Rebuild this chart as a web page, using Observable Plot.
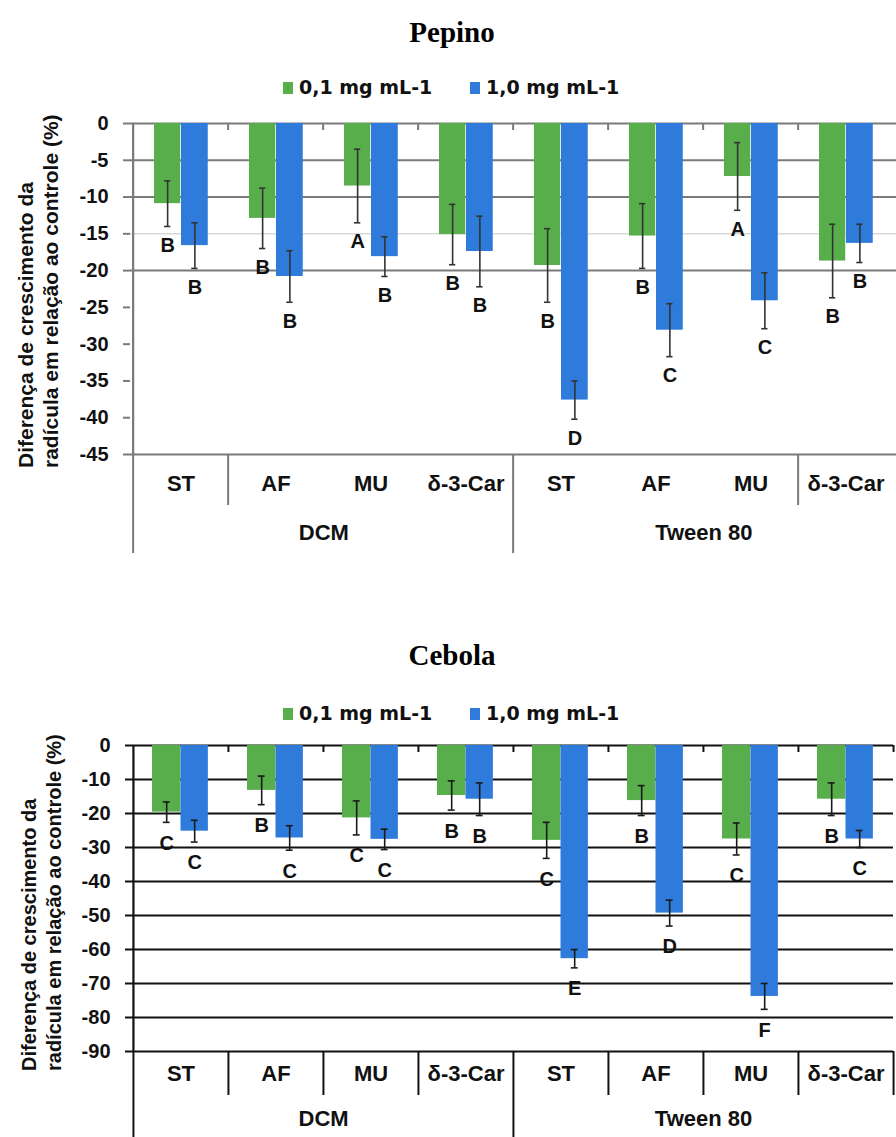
<!DOCTYPE html>
<html><head><meta charset="utf-8">
<script src="https://cdn.jsdelivr.net/npm/d3@7"></script>
<script src="https://cdn.jsdelivr.net/npm/@observablehq/plot@0.6"></script>
<style>
body{margin:0;background:#fff;}
#page{position:relative;width:896px;height:1137px;overflow:hidden;background:#fff;}
#page svg{position:absolute;left:0;}
</style></head><body><div id="page"></div>
<script>
// ---------- data ----------
const solvents = ["DCM", "Tween 80"];
const compounds = ["ST", "AF", "MU", "δ-3-Car"];
const seriesNames = ["0,1 mg mL-1", "1,0 mg mL-1"];
const chartTitles = ["Pepino", "Cebola"];
const yTitleLines = ["Diferença de crescimento da", "radícula em relação ao controle (%)"];

const pepinoLow = [-10.9, -12.9, -8.5, -15.1, -19.3, -15.3, -7.2, -18.7];
const pepinoLowErr = [3.1, 4.1, 5.0, 4.1, 5.0, 4.4, 4.6, 5.0];
const pepinoLowLetters = ["B", "B", "A", "B", "B", "B", "A", "B"];
const pepinoHigh = [-16.6, -20.8, -18.1, -17.4, -37.6, -28.1, -24.1, -16.3];
const pepinoHighErr = [3.1, 3.5, 2.7, 4.8, 2.6, 3.6, 3.8, 2.6];
const pepinoHighLetters = ["B", "B", "B", "B", "D", "C", "C", "B"];
const pepinoTicks = [0, -5, -10, -15, -20, -25, -30, -35, -40, -45];
const pepinoGrid = [0, -5, -10, -20, -45];

const cebolaLow = [-19.6, -13.2, -21.3, -14.7, -27.9, -16.2, -27.5, -15.8];
const cebolaLowErr = [3.0, 4.2, 5.0, 4.3, 5.3, 4.4, 4.7, 4.8];
const cebolaLowLetters = ["C", "B", "C", "B", "C", "B", "C", "B"];
const cebolaHigh = [-25.2, -27.2, -27.6, -15.8, -62.7, -49.3, -73.8, -27.5];
const cebolaHighErr = [3.2, 3.6, 3.0, 4.8, 2.7, 3.8, 3.8, 2.5];
const cebolaHighLetters = ["C", "C", "C", "B", "E", "D", "F", "C"];
const cebolaTicks = [0, -10, -20, -30, -40, -50, -60, -70, -80, -90];
const cebolaGrid = [0, -10, -20, -30, -40, -50, -60, -70, -80, -90];

const GREEN = "#58ae4b", BLUE = "#2f7bdc";
const keys = solvents.flatMap(s => compounds.map(c => s + "|" + c));

function chart(cfg) {
  const rows = keys.map((k, i) => ({
    key: k, solvent: k.split("|")[0], compound: k.split("|")[1],
    low: cfg.low[i], lowErr: cfg.lowErr[i], lowLetter: cfg.lowLetters[i],
    high: cfg.high[i], highErr: cfg.highErr[i], highLetter: cfg.highLetters[i]
  }));
  const w = (cfg.width - cfg.ml - cfg.mr) / keys.length;
  const frameH = cfg.height - cfg.mt - cfg.mb;
  const cG = (cfg.gL + cfg.gR) / 2, cB = (cfg.gR + cfg.bR) / 2;
  const dxG = cG - w / 2, dxB = cB - w / 2;
  const cap = 3.5;
  const errMarks = (field, errField, c, dx) => [
    Plot.ruleX(rows, {x: "key", y1: d => d[field] - d[errField], y2: d => d[field] + d[errField], dx, stroke: cfg.errColor, strokeWidth: 1.6}),
    Plot.tickY(rows, {x: "key", y: d => d[field] - d[errField], insetLeft: c - cap, insetRight: w - c - cap, stroke: cfg.errColor, strokeWidth: 1.6}),
    Plot.tickY(rows, {x: "key", y: d => d[field] + d[errField], insetLeft: c - cap, insetRight: w - c - cap, stroke: cfg.errColor, strokeWidth: 1.6})
  ];
  const svg = Plot.plot({
    width: cfg.width, height: cfg.height,
    marginTop: cfg.mt, marginBottom: cfg.mb, marginLeft: cfg.ml, marginRight: cfg.mr,
    x: {type: "band", domain: keys, padding: 0, axis: null},
    y: {domain: [cfg.ticks[cfg.ticks.length - 1], 0], axis: null},
    style: {background: "transparent", fontFamily: "'Liberation Sans', Arial, sans-serif", fontWeight: "bold", fontSize: "20px", color: "black", overflow: "visible"},
    marks: [
      ...(cfg.faintGrid ? [Plot.ruleY(cfg.faintGrid, {stroke: "#d8d8d8", strokeWidth: 1.5})] : []),
      Plot.ruleY(cfg.grid, {stroke: cfg.lineColor, strokeWidth: 2}),
      Plot.barY(rows, {x: "key", y1: 0, y2: "low", fill: GREEN, insetLeft: cfg.gL, insetRight: w - cfg.gR}),
      Plot.barY(rows, {x: "key", y1: 0, y2: "high", fill: BLUE, insetLeft: cfg.gR, insetRight: w - cfg.bR}),
      ...errMarks("low", "lowErr", cG, dxG),
      ...errMarks("high", "highErr", cB, dxB),
      Plot.text(rows, {x: "key", y: d => d.low - d.lowErr, text: "lowLetter", dx: dxG, dy: cfg.letterDy, fontSize: 20, fill: "#111"}),
      Plot.text(rows, {x: "key", y: d => d.high - d.highErr, text: "highLetter", dx: dxB, dy: cfg.letterDy, fontSize: 20, fill: "#111"}),
      // tick marks on the zero line at category boundaries
      Plot.ruleX(cfg.zeroTickKeys, {x: d => d, dx: -w / 2, insetBottom: frameH - 7, stroke: cfg.lineColor, strokeWidth: 2}),
      ...(cfg.rightEdge ? [Plot.ruleX([keys[keys.length - 1]], {x: d => d, dx: w / 2, insetBottom: frameH - 7, stroke: cfg.lineColor, strokeWidth: 2}),
        Plot.ruleX([keys[keys.length - 1]], {x: d => d, dx: w / 2, insetTop: frameH, insetBottom: -cfg.sepShort, stroke: cfg.lineColor, strokeWidth: 2})] : []),
      // category separators below the plot
      Plot.ruleX(cfg.shortSepKeys, {x: d => d, dx: -w / 2, insetTop: frameH, insetBottom: -cfg.sepShort, stroke: cfg.lineColor, strokeWidth: 2}),
      Plot.ruleX([keys[0], keys[4]], {x: d => d, dx: -w / 2, insetTop: frameH, insetBottom: -cfg.sepLong, stroke: cfg.lineColor, strokeWidth: 2}),
      // y axis line
      Plot.ruleX([keys[0]], {x: d => d, dx: -w / 2, stroke: cfg.lineColor, strokeWidth: 2.2}),
      Plot.axisY({ticks: cfg.ticks, tickSize: 7, tickPadding: 15, tickFormat: d => String(d), stroke: cfg.lineColor, strokeWidth: 2, fontSize: cfg.tickFont, label: null, fill: "#111"}),
      // category and group labels
      Plot.text(rows, {x: "key", text: "compound", frameAnchor: "bottom", dy: cfg.catDy, fontSize: 22, fill: "#111"}),
      Plot.text([keys[1], keys[5]], {x: d => d, text: d => d.split("|")[0], dx: w / 2, frameAnchor: "bottom", dy: cfg.grpDy, fontSize: 22, fill: "#111"})
    ]
  });
  svg.style.top = cfg.top + "px";
  return svg;
}

const page = document.getElementById("page");

page.appendChild(chart({
  top: 113, width: 896, height: 446, mt: 10, mb: 105, ml: 130, mr: 0,
  low: pepinoLow, lowErr: pepinoLowErr, lowLetters: pepinoLowLetters,
  high: pepinoHigh, highErr: pepinoHighErr, highLetters: pepinoHighLetters,
  ticks: pepinoTicks, grid: pepinoGrid, faintGrid: [-15],
  gL: 21, gR: 48, bR: 75.5, lineColor: "#7a7a7a", errColor: "#333",
  letterDy: 19, tickFont: 20, catDy: 36, grpDy: 85,
  zeroTickKeys: keys.slice(1), shortSepKeys: [keys[1], keys[7]], sepShort: 51, sepLong: 99, rightEdge: false
}));

page.appendChild(chart({
  top: 735, width: 896, height: 402, mt: 10, mb: 86, ml: 132, mr: 3,
  low: cebolaLow, lowErr: cebolaLowErr, lowLetters: cebolaLowLetters,
  high: cebolaHigh, highErr: cebolaHighErr, highLetters: cebolaHighLetters,
  ticks: cebolaTicks, grid: cebolaGrid, faintGrid: null,
  gL: 19, gR: 47.5, bR: 75, lineColor: "#111", errColor: "#1a1a1a",
  letterDy: 21, tickFont: 20, catDy: 29, grpDy: 74,
  zeroTickKeys: keys.slice(1), shortSepKeys: [keys[1], keys[2], keys[3], keys[5], keys[6], keys[7]], sepShort: 44, sepLong: 90, rightEdge: true
}));

// ---------- titles, legends, y titles ----------
const ov = d3.select(page).append("svg")
  .attr("width", 896).attr("height", 1137)
  .style("top", "0px").style("pointer-events", "none");

const blocks = [
  {title: chartTitles[0], titleY: 42, legendY: 94, yTitleX: 14, yTitleStart: 468, yTitleSize: 21},
  {title: chartTitles[1], titleY: 665, legendY: 720, yTitleX: 17, yTitleStart: 1071, yTitleSize: 20}
];
blocks.forEach(b => {
  ov.append("text").attr("x", 452).attr("y", b.titleY).attr("text-anchor", "middle")
    .attr("font-family", "'Liberation Serif', 'Times New Roman', serif").attr("font-weight", "bold")
    .attr("font-size", 29).attr("fill", "#000").text(b.title);
  const leg = [{x: 283, c: GREEN, t: seriesNames[0]}, {x: 470, c: BLUE, t: seriesNames[1]}];
  leg.forEach(l => {
    ov.append("rect").attr("x", l.x).attr("y", b.legendY - 12).attr("width", 10).attr("height", 12).attr("fill", l.c);
    ov.append("text").attr("x", l.x + 16).attr("y", b.legendY)
      .attr("font-family", "'DejaVu Sans', sans-serif").attr("font-weight", "bold")
      .attr("font-size", 19).attr("fill", "#111").text(l.t);
  });
  yTitleLines.forEach((line, i) => {
    const bx = b.yTitleX + 19 + i * 25;
    ov.append("text").attr("transform", `translate(${bx},${b.yTitleStart}) rotate(-90)`)
      .attr("font-family", "'Liberation Sans', Arial, sans-serif").attr("font-weight", "bold")
      .attr("font-size", b.yTitleSize).attr("fill", "#111").text(line);
  });
});
</script>
</body></html>
